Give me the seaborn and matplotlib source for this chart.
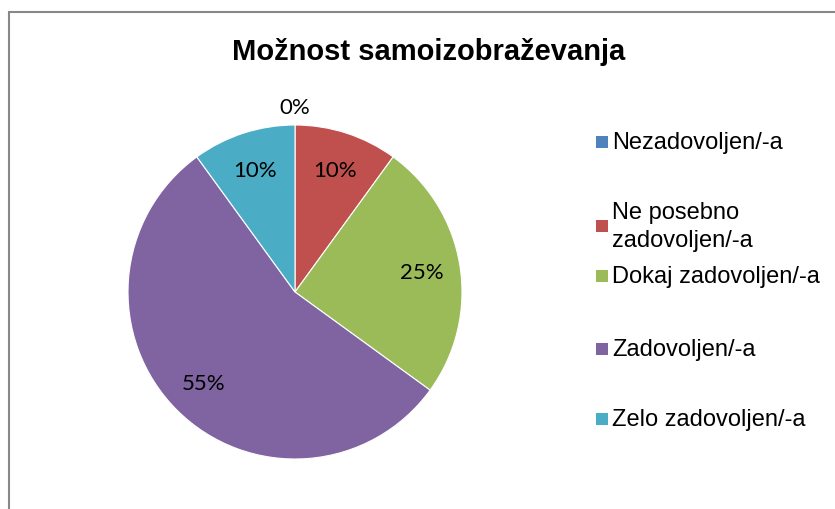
import matplotlib
matplotlib.use("Agg")
import matplotlib.pyplot as plt
from matplotlib.patches import Rectangle
import seaborn as sns

# podatki
kategorije = ["Nezadovoljen/-a", "Ne posebno\nzadovoljen/-a", "Dokaj zadovoljen/-a",
              "Zadovoljen/-a", "Zelo zadovoljen/-a"]
deleži = [0, 10, 25, 55, 10]
naslov = "Možnost samoizobraževanja"

barve = sns.color_palette(["#4F81BD", "#C0504D", "#9BBB59", "#8064A2", "#4BACC6"])

sns.set_theme(style="white")
plt.rcParams["font.family"] = ["Liberation Sans", "DejaVu Sans"]

W, H = 835, 510
fig = plt.figure(figsize=(W / 100, H / 100), dpi=100)

# okvir grafa (levi in zgornji rob sta vidna)
fig.patches.append(Rectangle((9 / W, -0.1), 1.2, (H - 13) / H + 0.1, transform=fig.transFigure,
                             fill=False, edgecolor="#888888", linewidth=1.5))

# pita
r = 167
cx, cy = 295, H - 293
ax = fig.add_axes([(cx - r) / W, (cy - r) / H, 2 * r / W, 2 * r / H])
wedges, _, odstotki = ax.pie(deleži, colors=barve, startangle=90, counterclock=False,
                             autopct="%1.0f%%", pctdistance=0.77,
                             wedgeprops=dict(edgecolor="white", linewidth=0.8),
                             textprops=dict(family=["Lato", "DejaVu Sans"], fontsize=16, color="black"))
ax.set_xlim(-1, 1)
ax.set_ylim(-1, 1)
ax.set_aspect("equal")
ax.axis("off")
# oznaka za 0 % stoji nad pito
for w, t, v in zip(wedges, odstotki, deleži):
    if v == 0:
        t.set_position((0, 1.11))

fig.text(429 / W, 1 - 52 / H, naslov, ha="center", va="center",
         fontsize=21, fontweight="bold", color="black")

# legenda
leg_y = [143, 227, 277, 350, 420]
for barva, ime, y in zip(barve, kategorije, leg_y):
    fig.patches.append(Rectangle((596 / W, 1 - (y + 6) / H), 12 / W, 12 / H,
                                 transform=fig.transFigure, facecolor=barva, edgecolor="none"))
    fig.text(612 / W, 1 - y / H, ime, ha="left", va="center", fontsize=17,
             color="black", linespacing=1.3)

fig.savefig("out.png", dpi=100)
